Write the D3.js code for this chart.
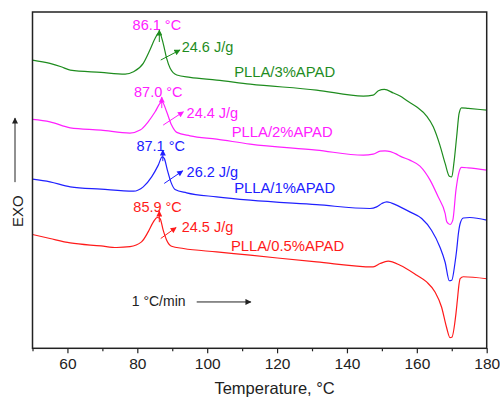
<!DOCTYPE html>
<html>
<head>
<meta charset="utf-8">
<script src="https://cdn.jsdelivr.net/npm/d3@7"></script>
<style>
  body { margin: 0; background: #fff; }
  svg text { font-family: "Liberation Sans", Arial, sans-serif; }
</style>
</head>
<body>
<svg id="chart" width="500" height="398"></svg>
<script>
// DSC heating curves, [temperature °C, heat flow a.u. (exo up, offset)]
const curve3 = [[50,28.8],[55,28.47],[58.2,28.13],[60.8,27.8],[69.6,27.57],[76.5,27.4],[78.9,27.63],[81.7,28.47],[83.6,29.8],[85.1,30.97],[86.3,31.57],[87.4,30.47],[88.4,28.97],[89.4,27.97],[91.3,27.3],[95.1,27.07],[102.7,26.8],[112.3,26.4],[131.3,25.8],[144.7,25.2],[147.5,25.3],[149,25.73],[150.7,25.87],[153.3,25.5],[155.2,25.2],[157.1,24.75],[160,24.1],[162.8,23.2],[164.7,22.13],[166.6,20.3],[168.1,18.47],[169.3,17.2],[170,17.13],[170.6,18.47],[171.4,21.13],[172.1,23.47],[172.8,24.03],[174.7,23.97],[180,23.8]];
const curve2 = [[50,22.87],[55,22.63],[60.8,22.03],[69.6,21.8],[77.9,21.5],[80.8,21.8],[83.1,22.63],[85.1,23.63],[86.5,24.47],[87.1,24.63],[88.4,23.63],[89.8,22.3],[91.3,21.57],[95.1,21.23],[102.7,20.9],[112.3,20.4],[131.3,19.8],[144.7,19.3],[147.5,19.4],[149.5,19.7],[150.9,19.73],[154.2,19.4],[155.2,19.2],[158,18.8],[160.9,18.2],[163.8,16.8],[166.1,15.13],[168.1,13.47],[168.6,12.63],[169.5,12.37],[170.3,12.8],[171.2,15.8],[172.1,17.63],[172.8,18.07],[174.7,18.03],[180,17.8]];
const curve1 = [[50,16.9],[55,16.63],[60.8,16.13],[69.6,15.9],[78.9,15.7],[81.7,16.13],[84.1,17.13],[86,18.3],[87.1,19.13],[87.7,18.97],[88.6,17.8],[89.6,16.63],[90.8,15.87],[94.1,15.53],[102.7,15.13],[112.3,14.8],[131.3,14.35],[146.6,13.97],[148.5,14.13],[150,14.47],[151.4,14.63],[154.2,14.3],[155.2,14.13],[158,13.63],[161.4,12.97],[164.2,11.8],[166.6,10.13],[168.1,8.6],[169.3,6.75],[170,6.8],[170.9,8.47],[171.4,9.8],[171.9,11.47],[172.4,12.47],[173.3,13.02],[175.2,13.07],[180,12.8]];
const curve05 = [[50,11.37],[55,10.97],[60.8,10.53],[69.6,10.23],[74.1,10.07],[77.9,10.15],[81.2,10.63],[83.1,11.63],[84.6,12.63],[85.7,13.07],[86.5,12.97],[87.4,11.8],[88.4,10.8],[89.8,10.2],[93.2,9.97],[102.7,9.63],[112.3,9.3],[131.3,8.63],[147.5,8.13],[149.5,8.47],[151.8,8.7],[155.2,8.3],[160,7.3],[162.8,6.63],[165.2,5.63],[167.1,4.1],[168.5,2.1],[169.5,1.07],[170,1.1],[171.2,3.47],[171.6,4.8],[172.1,6.47],[172.4,6.97],[173.3,7.15],[180,6.95]];

const seriesNames = ['PLLA/3%APAD', 'PLLA/2%APAD', 'PLLA/1%APAD', 'PLLA/0.5%APAD'];
const seriesCurves = [curve3, curve2, curve1, curve05];
const seriesColors = ['#1e8c1e', '#ff20ff', '#2020ff', '#ff1a1a'];
const nameAnchors = [[136.6, 27.63], [135.9, 21.63], [136.6, 16.03], [139.2, 10.2]];

const peakTexts = ['86.1 °C', '87.0 °C', '87.1 °C', '85.9 °C'];
const peakTextColors = ['#ff20ff', '#ff20ff', '#2020ff', '#ff1a1a'];
const peakTextAnchors = [[85.6, 32.3], [86.0, 25.63], [86.7, 20.2], [85.8, 14.13]];
const peakMarks = [[86.3, 30.6, 31.8], [87.0, 24.0, 25.1], [87.3, 18.7, 19.8], [86.3, 12.6, 13.7]];

const enthalpyTexts = ['24.6 J/g', '24.4 J/g', '26.2 J/g', '24.5 J/g'];
const enthalpyAnchors = [[92.7, 30.13], [94.1, 23.47], [94.1, 17.63], [92.7, 12.07]];
const enthalpyArrows = [[86.7, 28.8, 92.2, 29.8], [87.4, 22.3, 93.2, 23.63], [87.7, 16.47, 93.0, 17.73], [86.7, 10.97, 91.1, 12.07]];

const rateText = '1 °C/min';
const rateAnchor = [78.4, 4.7];
const rateArrow = [97.0, 112.5, 4.63];

const majorTicks = [60, 80, 100, 120, 140, 160, 180];
const minorTicks = [50, 70, 90, 110, 130, 150, 170];

const svg = d3.select('#chart');
const margin = { top: 12, right: 13.3, bottom: 49.7, left: 32.5 };
const W = 500, H = 398;

const x = d3.scaleLinear().domain([50, 180]).range([margin.left, W - margin.right]);
const y = d3.scaleLinear().domain([0, 33.6]).range([H - margin.bottom, margin.top]);

// arrowhead markers, one per colour
const defs = svg.append('defs');
const markerColors = seriesColors.concat(['#222']);
markerColors.forEach((c, i) => {
  defs.append('marker')
    .attr('id', 'ah' + i)
    .attr('viewBox', '0 0 10 10')
    .attr('refX', 9).attr('refY', 5)
    .attr('markerWidth', 7).attr('markerHeight', 6)
    .attr('markerUnits', 'userSpaceOnUse')
    .attr('orient', 'auto')
    .append('path')
    .attr('d', 'M0,0L10,5L0,10Z')
    .attr('fill', c);
});

// curves
const line = d3.line()
  .x(d => x(d[0]))
  .y(d => y(d[1]))
  .curve(d3.curveMonotoneX);

seriesCurves.forEach((c, i) => {
  svg.append('path')
    .datum(c)
    .attr('fill', 'none')
    .attr('stroke', seriesColors[i])
    .attr('stroke-width', 1.2)
    .attr('d', line);
});

// series names
seriesNames.forEach((n, i) => {
  svg.append('text')
    .attr('x', x(nameAnchors[i][0]))
    .attr('y', y(nameAnchors[i][1]))
    .attr('text-anchor', 'end')
    .attr('dominant-baseline', 'central')
    .attr('fill', seriesColors[i])
    .style('font-size', '14.8px')
    .text(n);
});

// peak temperature labels with small up arrows
peakTexts.forEach((t, i) => {
  svg.append('text')
    .attr('x', x(peakTextAnchors[i][0]))
    .attr('y', y(peakTextAnchors[i][1]))
    .attr('text-anchor', 'middle')
    .attr('dominant-baseline', 'central')
    .attr('fill', peakTextColors[i])
    .style('font-size', '14.5px')
    .text(t);
  const m = peakMarks[i];
  svg.append('line')
    .attr('x1', x(m[0])).attr('x2', x(m[0]))
    .attr('y1', y(m[1])).attr('y2', y(m[2]))
    .attr('stroke', seriesColors[i])
    .attr('stroke-width', 1)
    .attr('marker-end', 'url(#ah' + i + ')');
});

// enthalpy labels and arrows
enthalpyTexts.forEach((t, i) => {
  const a = enthalpyArrows[i];
  svg.append('line')
    .attr('x1', x(a[0])).attr('y1', y(a[1]))
    .attr('x2', x(a[2])).attr('y2', y(a[3]))
    .attr('stroke', seriesColors[i])
    .attr('stroke-width', 1)
    .attr('marker-end', 'url(#ah' + i + ')');
  svg.append('text')
    .attr('x', x(enthalpyAnchors[i][0]))
    .attr('y', y(enthalpyAnchors[i][1]))
    .attr('dominant-baseline', 'central')
    .attr('fill', seriesColors[i])
    .style('font-size', '14.5px')
    .text(t);
});

// heating rate
svg.append('text')
  .attr('x', x(rateAnchor[0]))
  .attr('y', y(rateAnchor[1]))
  .attr('dominant-baseline', 'central')
  .attr('fill', '#222')
  .style('font-size', '14px')
  .text(rateText);
svg.append('line')
  .attr('x1', x(rateArrow[0])).attr('x2', x(rateArrow[1]))
  .attr('y1', y(rateArrow[2])).attr('y2', y(rateArrow[2]))
  .attr('stroke', '#222')
  .attr('stroke-width', 1)
  .attr('marker-end', 'url(#ah4)');

// frame
svg.append('rect')
  .attr('x', margin.left).attr('y', margin.top)
  .attr('width', W - margin.left - margin.right)
  .attr('height', H - margin.top - margin.bottom)
  .attr('fill', 'none')
  .attr('stroke', '#222')
  .attr('stroke-width', 1.5);

// x axis
const xAxis = svg.append('g')
  .attr('transform', `translate(0,${H - margin.bottom})`)
  .call(d3.axisBottom(x).tickValues(majorTicks).tickSize(5).tickFormat(d3.format('d')));
xAxis.select('.domain').remove();
xAxis.selectAll('.tick line').attr('stroke', '#222').attr('stroke-width', 1.2);
xAxis.selectAll('.tick text')
  .attr('fill', '#222')
  .attr('dy', '0.85em')
  .style('font-family', '"Liberation Sans", Arial, sans-serif')
  .style('font-size', '15.5px');

const xMinor = svg.append('g')
  .attr('transform', `translate(0,${H - margin.bottom})`)
  .call(d3.axisBottom(x).tickValues(minorTicks).tickSize(3).tickFormat(''));
xMinor.select('.domain').remove();
xMinor.selectAll('.tick line').attr('stroke', '#222').attr('stroke-width', 1.2);

svg.append('text')
  .attr('x', (margin.left + W - margin.right) / 2 + 15)
  .attr('y', 394)
  .attr('text-anchor', 'middle')
  .attr('fill', '#222')
  .style('font-size', '16.5px')
  .text('Temperature, °C');

// y axis label: EXO with up arrow
const yMid = (margin.top + H - margin.bottom) / 2;
svg.append('line')
  .attr('x1', 15).attr('x2', 15)
  .attr('y1', yMid + 2).attr('y2', yMid - 62)
  .attr('stroke', '#222')
  .attr('stroke-width', 1)
  .attr('marker-end', 'url(#ah4)');
svg.append('text')
  .attr('transform', `translate(17,${yMid + 31}) rotate(-90)`)
  .attr('text-anchor', 'middle')
  .attr('dominant-baseline', 'central')
  .attr('fill', '#222')
  .style('font-size', '15px')
  .text('EXO');
</script>
</body>
</html>
